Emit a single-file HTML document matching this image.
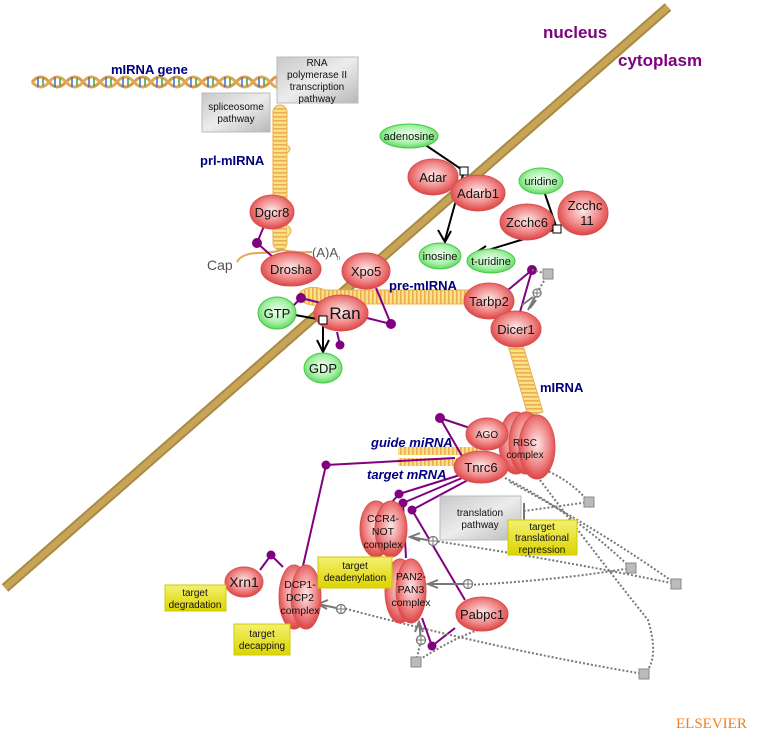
<!DOCTYPE html>
<html><head><meta charset="utf-8"><style>
html,body{margin:0;padding:0;background:#fff;}
svg{display:block;font-family:"Liberation Sans",sans-serif;}
</style></head><body>
<svg width="763" height="738" viewBox="0 0 763 738" xmlns="http://www.w3.org/2000/svg">
<defs>
<radialGradient id="rg" cx="50%" cy="45%" r="55%"><stop offset="0" stop-color="#fde8e8"/><stop offset="0.6" stop-color="#f08a8a"/><stop offset="1" stop-color="#dd4444"/></radialGradient>
<radialGradient id="gg" cx="50%" cy="45%" r="55%"><stop offset="0" stop-color="#f2fff2"/><stop offset="0.65" stop-color="#a8f0a8"/><stop offset="1" stop-color="#60d860"/></radialGradient>
<linearGradient id="gb" x1="0" y1="0" x2="1" y2="1"><stop offset="0" stop-color="#c8c8c8"/><stop offset="0.5" stop-color="#ececec"/><stop offset="1" stop-color="#b8b8b8"/></linearGradient>
<linearGradient id="yb" x1="0" y1="0" x2="0" y2="1"><stop offset="0" stop-color="#f4f070"/><stop offset="1" stop-color="#dcd400"/></linearGradient>
<pattern id="rung" width="4" height="4" patternUnits="userSpaceOnUse"><rect width="4" height="4" fill="#fbe08a"/><rect width="1.6" height="4" fill="#e8b050"/></pattern>
<pattern id="rungh" width="4" height="4" patternUnits="userSpaceOnUse"><rect width="4" height="4" fill="#fbe08a"/><rect width="4" height="1.6" fill="#e8b050"/></pattern>
</defs>

<line x1="5" y1="588" x2="668" y2="7" stroke="#a88a40" stroke-width="10"/>
<line x1="5" y1="588" x2="668" y2="7" stroke="#c8a458" stroke-width="6"/>

<g fill="none" stroke-width="3">
<path d="M32 82 q9 -10 17 0 t17 0 t17 0 t17 0 t17 0 t17 0 t17 0 t17 0 t17 0 t17 0 t17 0 t17 0 t17 0 t17 0 t7 0" stroke="#d89a48"/>
<path d="M32 82 q9 10 17 0 t17 0 t17 0 t17 0 t17 0 t17 0 t17 0 t17 0 t17 0 t17 0 t17 0 t17 0 t17 0 t17 0 t7 0" stroke="#e0a850"/>
</g>
<g stroke-width="1.5">
<path d="M38 77v10M55 77v10M72 77v10M89 77v10M106 77v10M123 77v10M140 77v10M157 77v10M174 77v10M191 77v10M208 77v10M225 77v10M242 77v10M259 77v10" stroke="#3a6ad8"/>
<path d="M43 78v8M60 78v8M77 78v8M94 78v8M111 78v8M128 78v8M145 78v8M162 78v8M179 78v8M196 78v8M213 78v8M230 78v8M247 78v8M264 78v8" stroke="#40a040"/>
</g>

<rect x="273" y="105" width="14" height="145" rx="7" fill="url(#rungh)" stroke="#e8b050"/>
<path d="M287 145 q6 4 0 8 M287 225 q8 6 0 12" fill="#fbe08a" stroke="#e8b050"/>
<path d="M237 262 q4 -8 20 -9 q15 0 25 -3 q15 3 30 2" fill="none" stroke="#e0a850" stroke-width="2"/>
<text x="207" y="270" font-size="14" fill="#555">Cap</text>
<text x="312" y="257" font-size="13" fill="#555">(A)A</text><text x="337" y="260" font-size="6" fill="#555">n</text>

<path d="M300 292 q10 -8 25 -2 l145 0 l0 14 l-145 0 q-15 4 -25 -4z" fill="url(#rung)" stroke="#e8b050"/>
<polygon points="508,345 522,342 543,412 528,416" fill="url(#rungh)" stroke="#e8b050"/>
<rect x="398" y="447" width="80" height="8" fill="url(#rung)"/>
<rect x="398" y="458" width="60" height="8" fill="url(#rung)"/>

<g stroke="#800080" stroke-width="2" fill="none">
<path d="M264 226 L257 243 L274 258"/>
<path d="M301 298 L325 304 M301 298 L293 306"/>
<path d="M376 288 L391 324 L367 318"/>
<path d="M340 345 L337 332"/>
<path d="M532 270 L508 290 M532 270 L520 312"/>
<path d="M440 418 L470 428 M440 418 L462 456"/>
<path d="M326 465 L455 458 M326 465 L303 566"/>
<path d="M260 570 L271 555 L283 567"/>
<path d="M399 494 L460 475 M399 494 L392 502"/>
<path d="M403 503 L462 478 M403 503 L406 558"/>
<path d="M412 510 L468 480 M412 510 L465 600"/>
<path d="M432 646 L455 628 M432 646 L422 618"/>
</g>
<g fill="#800080">
<circle cx="257" cy="243" r="5"/><circle cx="301" cy="298" r="5"/><circle cx="391" cy="324" r="5"/><circle cx="340" cy="345" r="4.5"/>
<circle cx="532" cy="270" r="5"/><circle cx="440" cy="418" r="5"/><circle cx="326" cy="465" r="4.5"/><circle cx="271" cy="555" r="4.5"/>
<circle cx="399" cy="494" r="4.5"/><circle cx="403" cy="503" r="4.5"/><circle cx="412" cy="510" r="4.5"/><circle cx="432" cy="646" r="4.5"/>
</g>

<g stroke="#777" stroke-width="2" stroke-dasharray="2,2" fill="none">
<path d="M532 270 L548 274 M548 274 L537 293"/>
<path d="M545 470 Q570 480 589 502 M589 502 L524 511"/>
<path d="M505 478 Q570 510 631 568 M631 568 Q560 580 470 585"/>
<path d="M510 482 Q600 530 676 584 M676 584 Q560 560 435 541"/>
<path d="M540 480 Q600 560 648 620 Q660 660 644 674 M644 674 Q500 650 343 608"/>
<path d="M416 662 L421 640 M416 662 Q450 640 478 630"/>
</g>
<g stroke="#777" stroke-width="2" fill="none">
<path d="M537 293 L528 310 M533 297 L522 305 M536 300 L530 308"/>
<path d="M433 541 L410 537 M420 533 L410 537 L420 541"/>
<path d="M468 584 L428 584 M438 580 L428 584 L438 588"/>
<path d="M341 609 L318 604 M328 600 L318 604 L327 609"/>
<path d="M421 640 L419 622 M415 632 L419 622 L423 632"/>
<path d="M524 503 V520"/>
</g>
<g fill="#fff" stroke="#777" stroke-width="1.3">
<circle cx="537" cy="293" r="4"/><circle cx="433" cy="541" r="4.5"/><circle cx="468" cy="584" r="4.5"/><circle cx="341" cy="609" r="4.5"/><circle cx="421" cy="640" r="4.5"/>
</g>
<g stroke="#777" stroke-width="1"><path d="M533 293h8M537 289v8M428.5 541h9M433 536.5v9M463.5 584h9M468 579.5v9M336.5 609h9M341 604.5v9M416.5 640h9M421 635.5v9"/></g>
<g fill="#bbb" stroke="#888">
<rect x="543" y="269" width="10" height="10"/><rect x="584" y="497" width="10" height="10"/><rect x="626" y="563" width="10" height="10"/><rect x="671" y="579" width="10" height="10"/><rect x="639" y="669" width="10" height="10"/><rect x="411" y="657" width="10" height="10"/>
</g>

<g stroke="#000" stroke-width="2" fill="none">
<path d="M295 315 L323 320 L323 350 M317 340 L323 352 L329 340"/>
<path d="M424 144 L464 171 L445 240 M438 230 L445 242 L451 231"/>
<path d="M545 194 L557 229 L475 254 M486 246 L474 254 L488 257"/>
</g>

<g fill="url(#rg)" stroke="#d85050" stroke-width="1">
<ellipse cx="272" cy="212" rx="22" ry="17"/>
<ellipse cx="291" cy="269" rx="30" ry="17"/>
<ellipse cx="366" cy="271" rx="24" ry="18"/>
<ellipse cx="341" cy="313" rx="27" ry="18"/>
<ellipse cx="433" cy="177" rx="25" ry="18"/>
<ellipse cx="478" cy="193" rx="27" ry="18"/>
<ellipse cx="583" cy="213" rx="25" ry="22"/>
<ellipse cx="527" cy="222" rx="27" ry="18"/>
<ellipse cx="489" cy="301" rx="25" ry="18"/>
<ellipse cx="516" cy="329" rx="25" ry="18"/>
<ellipse cx="516" cy="443" rx="17" ry="31"/>
<ellipse cx="526" cy="443" rx="17" ry="31"/>
<ellipse cx="537" cy="447" rx="18" ry="32"/>
<ellipse cx="487" cy="434" rx="21" ry="16"/>
<ellipse cx="481" cy="467" rx="27" ry="16"/>
<ellipse cx="376" cy="529" rx="16" ry="28"/><ellipse cx="391" cy="529" rx="16" ry="28"/>
<ellipse cx="400" cy="591" rx="15" ry="32"/><ellipse cx="411" cy="591" rx="15" ry="32"/>
<ellipse cx="294" cy="597" rx="15" ry="32"/><ellipse cx="306" cy="597" rx="15" ry="32"/>
<ellipse cx="244" cy="582" rx="19" ry="15"/>
<ellipse cx="482" cy="614" rx="26" ry="17"/>
</g>
<g fill="url(#gg)" stroke="#44cc44" stroke-width="1">
<ellipse cx="277" cy="313" rx="19" ry="16"/>
<ellipse cx="323" cy="368" rx="19" ry="15"/>
<ellipse cx="409" cy="136" rx="29" ry="12"/>
<ellipse cx="440" cy="256" rx="21" ry="13"/>
<ellipse cx="541" cy="181" rx="22" ry="13"/>
<ellipse cx="491" cy="261" rx="24" ry="12"/>
</g>
<g fill="#fff" stroke="#000"><rect x="319" y="316" width="8" height="8"/><rect x="460" y="167" width="8" height="8"/><rect x="553" y="225" width="8" height="8"/></g>

<g font-size="13" fill="#111" text-anchor="middle">
<text x="272" y="217">Dgcr8</text><text x="291" y="274">Drosha</text><text x="366" y="276">Xpo5</text>
<text x="345" y="319" font-size="17">Ran</text><text x="277" y="318">GTP</text><text x="323" y="373">GDP</text>
<text x="409" y="140" font-size="11">adenosine</text><text x="433" y="182">Adar</text><text x="478" y="198">Adarb1</text>
<text x="440" y="260" font-size="11">inosine</text><text x="541" y="185" font-size="11">uridine</text><text x="491" y="265" font-size="11">t-uridine</text>
<text x="527" y="227">Zcchc6</text><text x="585" y="210">Zcchc</text><text x="587" y="225">11</text>
<text x="489" y="306">Tarbp2</text><text x="516" y="334">Dicer1</text>
<text x="487" y="438" font-size="10">AGO</text><text x="525" y="446" font-size="10">RISC</text><text x="525" y="458" font-size="10">complex</text>
<text x="481" y="472">Tnrc6</text>
<text x="383" y="522" font-size="10.5">CCR4-</text><text x="383" y="535" font-size="10.5">NOT</text><text x="383" y="548" font-size="10.5">complex</text>
<text x="411" y="580" font-size="10.5">PAN2-</text><text x="411" y="593" font-size="10.5">PAN3</text><text x="411" y="606" font-size="10.5">complex</text>
<text x="300" y="588" font-size="10.5">DCP1-</text><text x="300" y="601" font-size="10.5">DCP2</text><text x="300" y="614" font-size="10.5">complex</text>
<text x="244" y="587" font-size="14">Xrn1</text><text x="482" y="619">Pabpc1</text>
</g>

<g stroke="#bbb" fill="url(#gb)">
<rect x="277" y="57" width="81" height="46"/><rect x="202" y="93" width="68" height="39"/><rect x="440" y="496" width="81" height="44"/>
</g>
<g font-size="10" text-anchor="middle" fill="#111">
<text x="317" y="66">RNA</text><text x="317" y="78">polymerase II</text><text x="317" y="90">transcription</text><text x="317" y="102">pathway</text>
<text x="236" y="110">spliceosome</text><text x="236" y="122">pathway</text>
<text x="480" y="516">translation</text><text x="480" y="528">pathway</text>
</g>
<g fill="url(#yb)" stroke="#cccc00">
<rect x="508" y="520" width="69" height="35"/><rect x="318" y="557" width="74" height="31"/><rect x="165" y="585" width="61" height="26"/><rect x="234" y="624" width="56" height="31"/>
</g>
<g font-size="10" text-anchor="middle" fill="#111">
<text x="542" y="530">target</text><text x="542" y="541">translational</text><text x="542" y="553">repression</text>
<text x="355" y="569">target</text><text x="355" y="581">deadenylation</text>
<text x="195" y="596">target</text><text x="195" y="608">degradation</text>
<text x="262" y="637">target</text><text x="262" y="649">decapping</text>
</g>

<g font-weight="bold" fill="#000080" font-size="13">
<text x="111" y="74">mIRNA gene</text><text x="200" y="165">prl-mIRNA</text><text x="389" y="290">pre-mIRNA</text><text x="540" y="392">mIRNA</text>
<text x="371" y="447" font-style="italic">guide miRNA</text><text x="367" y="479" font-style="italic">target mRNA</text>
</g>
<text x="543" y="38" font-size="17" font-weight="bold" fill="#800080">nucleus</text>
<text x="618" y="66" font-size="17" font-weight="bold" fill="#800080">cytoplasm</text>
<text x="676" y="728" font-size="15" fill="#f08020" font-family="Liberation Serif,serif">ELSEVIER</text>
</svg>
</body></html>
